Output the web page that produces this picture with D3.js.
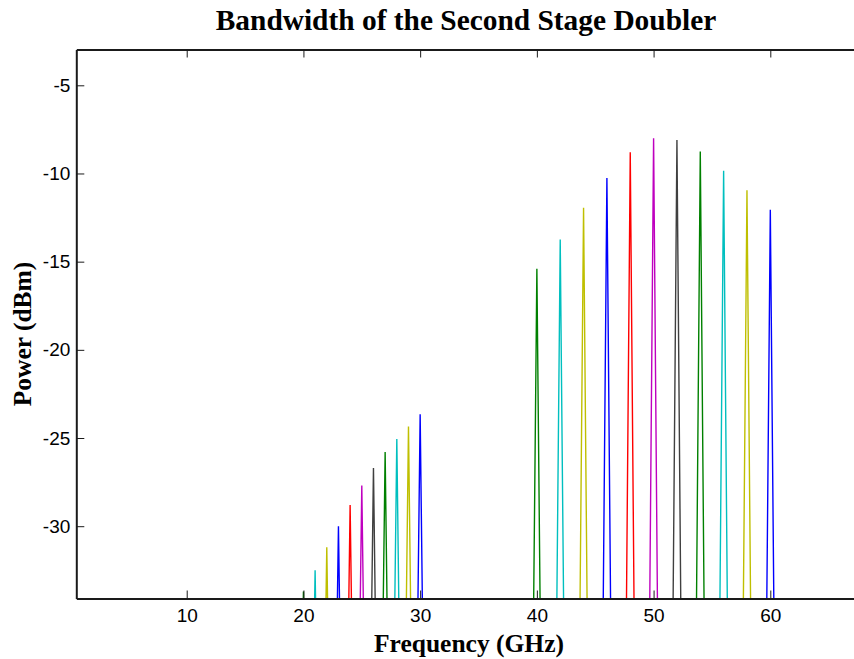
<!DOCTYPE html>
<html>
<head>
<meta charset="utf-8">
<script src="https://cdn.jsdelivr.net/npm/d3@7"></script>
<style>
  body { margin: 0; background: #fff; }
  svg { display: block; }
  .tick text { font-family: "Liberation Sans", Arial, sans-serif; font-size: 19px; fill: #000; }
  .title { font-family: "Liberation Serif", "Times New Roman", serif; font-weight: bold; font-size: 29.4px; }
  .label { font-family: "Liberation Serif", "Times New Roman", serif; font-weight: bold; font-size: 25.5px; }
</style>
</head>
<body>
<svg></svg>
<script>
// Spike frequencies (GHz), peak powers (dBm) and trace colours
let freqs = [20, 21, 22, 23, 24, 25, 26, 27, 28, 29, 30,
             40, 42, 44, 46, 48, 50, 52, 54, 56, 58, 60]
let peaks = [-33.7, -32.5, -31.2, -30.0, -28.8, -27.7, -26.7, -25.8, -25.05, -24.35, -23.65,
             -15.4, -13.75, -11.95, -10.25, -8.8, -8.0, -8.1, -8.75, -9.85, -10.95, -12.05]
let colors = ['g', 'c', 'y', 'b', 'r', 'm', 'k', 'g', 'c', 'y', 'b',
              'g', 'c', 'y', 'b', 'r', 'm', 'k', 'g', 'c', 'y', 'b']
let xTicks = [10, 20, 30, 40, 50, 60]
let yTicks = [-5, -10, -15, -20, -25, -30]

let matlab = { b: '#0000ff', g: '#008000', r: '#ff0000', c: '#00bfbf', m: '#bf00bf', y: '#bfbf00', k: '#404040' }

// noise floor and half width of each trace's spike
let floor = -60
let halfWidth = 0.65

let width = 854
let height = 659
let margin = { left: 76.3, right: 854, top: 49.5, bottom: 598.5 }

let scale = {
    x: d3.scaleLinear().domain([0.54, 67.17]).range([margin.left, margin.right]),
    y: d3.scaleLinear().domain([-34.1, -2.97]).range([margin.bottom, margin.top])
}

let svg = d3.select('svg')
    .attr('width', width)
    .attr('height', height)

svg.append('defs').append('clipPath')
    .attr('id', 'plot-clip')
    .append('rect')
    .attr('x', margin.left)
    .attr('y', margin.top)
    .attr('width', margin.right - margin.left)
    .attr('height', margin.bottom - margin.top)

// Spikes
let line = d3.line()
    .x(d => scale.x(d[0]))
    .y(d => scale.y(d[1]))

let spikes = svg.append('g').attr('clip-path', 'url(#plot-clip)')
for (let i = 0; i < freqs.length; i++) {
    let pts = [[freqs[i] - halfWidth, floor], [freqs[i], peaks[i]], [freqs[i] + halfWidth, floor]]
    spikes.append('path')
        .datum(pts)
        .attr('d', line)
        .style('fill', 'none')
        .style('stroke', matlab[colors[i]])
        .style('stroke-width', 1.4)
}

// Axes
let axis = {
    bottom: d3.axisBottom(scale.x).tickValues(xTicks).tickSizeInner(-8).tickSizeOuter(0).tickPadding(10.5),
    top: d3.axisTop(scale.x).tickValues(xTicks).tickSizeInner(-8).tickSizeOuter(0).tickFormat(''),
    left: d3.axisLeft(scale.y).tickValues(yTicks).tickSizeInner(-8).tickSizeOuter(0).tickPadding(6)
        .tickFormat(d => d < 0 ? '-' + Math.abs(d) : d)
}

svg.append('g')
    .attr('transform', `translate(0,${margin.bottom})`)
    .call(axis.bottom)
svg.append('g')
    .attr('transform', `translate(0,${margin.top})`)
    .call(axis.top)
svg.append('g')
    .attr('transform', `translate(${margin.left},0)`)
    .call(axis.left)

svg.selectAll('.domain').style('stroke', '#1a1a1a').style('stroke-width', 2)
svg.selectAll('.tick line').style('stroke', '#1a1a1a').style('stroke-width', 1)

// Title
svg.append('text')
    .attr('class', 'title')
    .attr('x', 466)
    .attr('y', 30)
    .attr('text-anchor', 'middle')
    .text('Bandwidth of the Second Stage Doubler')

// X label
svg.append('text')
    .attr('class', 'label')
    .attr('x', 469)
    .attr('y', 652)
    .attr('text-anchor', 'middle')
    .text('Frequency (GHz)')

// Y label
svg.append('text')
    .attr('class', 'label')
    .attr('transform', `translate(31,334) rotate(-90)`)
    .attr('text-anchor', 'middle')
    .text('Power (dBm)')
</script>
</body>
</html>
